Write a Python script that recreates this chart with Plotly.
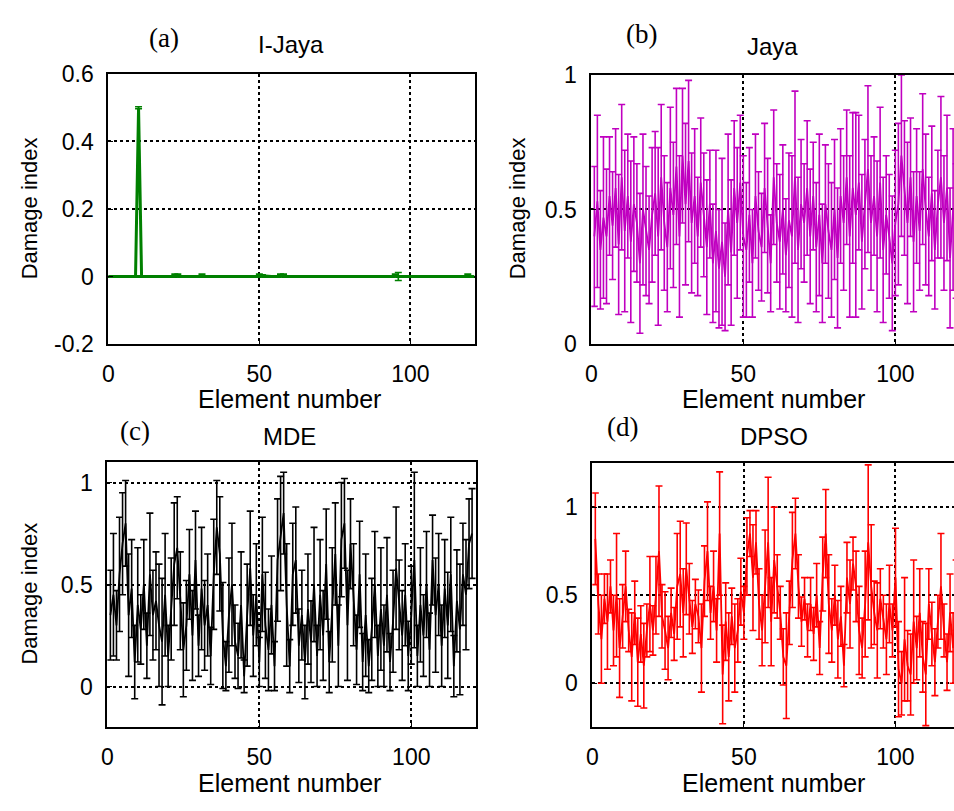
import plotly.graph_objects as go

elements = list(range(1, 121))

ijaya_mean = [
    0.0, 0.0, 0.0, 0.0, 0.0, 0.0, 0.0, 0.0, 0.0, 0.5,
    0.0, 0.0, 0.0, 0.0, 0.0, 0.0, 0.0, 0.0, 0.0, 0.0,
    0.0, 0.003, 0.003, 0.0, 0.0, 0.0, 0.0, 0.0, 0.0, 0.0,
    0.003, 0.0, 0.0, 0.0, 0.0, 0.0, 0.0, 0.0, 0.0, 0.0,
    0.0, 0.0, 0.0, 0.0, 0.0, 0.0, 0.0, 0.0, 0.0, 0.003,
    0.002, 0.0, 0.0, 0.0, 0.0, 0.0, 0.003, 0.003, 0.0, 0.0,
    0.0, 0.0, 0.0, 0.0, 0.0, 0.0, 0.0, 0.0, 0.0, 0.0,
    0.0, 0.0, 0.0, 0.0, 0.0, 0.0, 0.0, 0.0, 0.0, 0.0,
    0.0, 0.0, 0.0, 0.0, 0.0, 0.0, 0.0, 0.0, 0.0, 0.0,
    0.0, 0.0, 0.0, 0.0, 0.003, 0.0, 0.0, 0.0, 0.0, 0.0,
    0.0, 0.0, 0.0, 0.0, 0.0, 0.0, 0.0, 0.0, 0.0, 0.0,
    0.0, 0.0, 0.0, 0.0, 0.0, 0.0, 0.0, 0.0, 0.003, 0.0,
]
ijaya_err = [
    0.002, 0.002, 0.002, 0.002, 0.002, 0.002, 0.002, 0.002, 0.002, 0.003,
    0.002, 0.002, 0.002, 0.002, 0.002, 0.002, 0.002, 0.002, 0.002, 0.002,
    0.002, 0.004, 0.004, 0.002, 0.002, 0.002, 0.002, 0.002, 0.002, 0.002,
    0.004, 0.002, 0.002, 0.002, 0.002, 0.002, 0.002, 0.002, 0.002, 0.002,
    0.002, 0.002, 0.002, 0.002, 0.002, 0.002, 0.002, 0.002, 0.002, 0.004,
    0.003, 0.002, 0.002, 0.002, 0.002, 0.002, 0.004, 0.004, 0.002, 0.002,
    0.002, 0.002, 0.002, 0.002, 0.002, 0.002, 0.002, 0.002, 0.002, 0.002,
    0.002, 0.002, 0.002, 0.002, 0.002, 0.002, 0.002, 0.002, 0.002, 0.002,
    0.002, 0.002, 0.002, 0.002, 0.002, 0.002, 0.002, 0.002, 0.002, 0.002,
    0.002, 0.002, 0.002, 0.002, 0.004, 0.012, 0.002, 0.002, 0.002, 0.002,
    0.002, 0.002, 0.002, 0.002, 0.002, 0.002, 0.002, 0.002, 0.002, 0.002,
    0.002, 0.002, 0.002, 0.002, 0.002, 0.002, 0.002, 0.002, 0.004, 0.002,
]

jaya_mean = [
    0.40, 0.53, 0.35, 0.47, 0.40, 0.55, 0.44, 0.58, 0.37, 0.62,
    0.42, 0.55, 0.38, 0.52, 0.45, 0.30, 0.50, 0.42, 0.35, 0.48,
    0.56, 0.40, 0.62, 0.45, 0.36, 0.58, 0.48, 0.66, 0.40, 0.70,
    0.52, 0.68, 0.45, 0.55, 0.40, 0.60, 0.48, 0.36, 0.52, 0.30,
    0.42, 0.28, 0.38, 0.25, 0.50, 0.34, 0.58, 0.45, 0.60, 0.40,
    0.35, 0.48, 0.30, 0.55, 0.42, 0.36, 0.58, 0.44, 0.30, 0.62,
    0.45, 0.38, 0.50, 0.33, 0.46, 0.40, 0.62, 0.35, 0.52, 0.45,
    0.58, 0.40, 0.55, 0.36, 0.48, 0.30, 0.52, 0.42, 0.35, 0.50,
    0.32, 0.55, 0.45, 0.62, 0.40, 0.58, 0.48, 0.60, 0.38, 0.52,
    0.65, 0.45, 0.55, 0.40, 0.60, 0.35, 0.48, 0.40, 0.30, 0.45,
    0.52, 0.70, 0.58, 0.45, 0.62, 0.38, 0.55, 0.42, 0.65, 0.50,
    0.40, 0.56, 0.35, 0.52, 0.62, 0.45, 0.58, 0.32, 0.50, 0.42,
]
jaya_err = [
    0.26, 0.32, 0.22, 0.30, 0.25, 0.22, 0.20, 0.22, 0.26, 0.27,
    0.30, 0.23, 0.30, 0.25, 0.22, 0.26, 0.28, 0.24, 0.20, 0.25,
    0.23, 0.33, 0.27, 0.25, 0.24, 0.30, 0.27, 0.29, 0.30, 0.25,
    0.30, 0.30, 0.26, 0.25, 0.22, 0.24, 0.23, 0.25, 0.20, 0.22,
    0.30, 0.22, 0.31, 0.20, 0.28, 0.27, 0.25, 0.28, 0.25, 0.30,
    0.25, 0.25, 0.20, 0.23, 0.22, 0.20, 0.24, 0.25, 0.18, 0.25,
    0.22, 0.25, 0.24, 0.21, 0.25, 0.30, 0.32, 0.27, 0.24, 0.22,
    0.25, 0.25, 0.20, 0.24, 0.30, 0.22, 0.22, 0.25, 0.25, 0.26,
    0.26, 0.25, 0.25, 0.25, 0.30, 0.28, 0.38, 0.25, 0.25, 0.24,
    0.31, 0.25, 0.22, 0.28, 0.28, 0.27, 0.22, 0.23, 0.25, 0.27,
    0.30, 0.30, 0.25, 0.30, 0.22, 0.26, 0.25, 0.22, 0.28, 0.28,
    0.22, 0.25, 0.22, 0.20, 0.30, 0.25, 0.27, 0.26, 0.30, 0.25,
]

mde_mean = [
    0.35, 0.45, 0.30, 0.55, 0.70, 0.80, 0.35, 0.48, 0.12, 0.40,
    0.28, 0.50, 0.20, 0.55, 0.35, 0.42, 0.30, 0.22, 0.45, 0.15,
    0.38, 0.60, 0.68, 0.42, 0.18, 0.30, 0.55, 0.25, 0.62, 0.20,
    0.48, 0.30, 0.40, 0.15, 0.55, 0.78, 0.65, 0.25, 0.10, 0.35,
    0.50, 0.22, 0.15, 0.40, 0.05, 0.35, 0.58, 0.25, 0.45, 0.12,
    0.55, 0.30, 0.18, 0.40, 0.10, 0.62, 0.75, 0.85, 0.40, 0.10,
    0.55, 0.62, 0.20, 0.35, 0.12, 0.38, 0.22, 0.50, 0.15, 0.45,
    0.25, 0.60, 0.12, 0.40, 0.65, 0.20, 0.72, 0.80, 0.30, 0.70,
    0.45, 0.18, 0.55, 0.12, 0.35, 0.10, 0.28, 0.50, 0.15, 0.38,
    0.20, 0.45, 0.12, 0.32, 0.58, 0.40, 0.25, 0.45, 0.15, 0.35,
    0.62, 0.15, 0.40, 0.25, 0.50, 0.18, 0.62, 0.35, 0.50, 0.20,
    0.48, 0.30, 0.55, 0.10, 0.42, 0.28, 0.55, 0.45, 0.70, 0.75,
]
mde_err = [
    0.22, 0.30, 0.17, 0.28, 0.25, 0.21, 0.30, 0.24, 0.18, 0.28,
    0.17, 0.22, 0.16, 0.30, 0.22, 0.24, 0.30, 0.31, 0.30, 0.15,
    0.25, 0.30, 0.25, 0.24, 0.23, 0.22, 0.22, 0.22, 0.24, 0.15,
    0.30, 0.22, 0.25, 0.14, 0.27, 0.23, 0.28, 0.26, 0.12, 0.28,
    0.30, 0.18, 0.16, 0.26, 0.08, 0.25, 0.28, 0.20, 0.25, 0.12,
    0.28, 0.26, 0.20, 0.24, 0.12, 0.30, 0.28, 0.20, 0.30, 0.13,
    0.25, 0.26, 0.18, 0.22, 0.18, 0.27, 0.20, 0.28, 0.15, 0.27,
    0.22, 0.27, 0.15, 0.28, 0.25, 0.20, 0.28, 0.22, 0.27, 0.22,
    0.25, 0.17, 0.26, 0.14, 0.30, 0.13, 0.25, 0.26, 0.15, 0.30,
    0.20, 0.28, 0.14, 0.25, 0.30, 0.22, 0.22, 0.25, 0.17, 0.24,
    0.43, 0.15, 0.28, 0.20, 0.26, 0.18, 0.22, 0.28, 0.25, 0.20,
    0.24, 0.26, 0.28, 0.15, 0.25, 0.32, 0.25, 0.27, 0.22, 0.22,
]

dpso_mean = [
    0.82, 0.45, 0.25, 0.48, 0.35, 0.55, 0.30, 0.50, 0.20, 0.38,
    0.55, 0.30, 0.15, 0.40, 0.12, 0.28, 0.10, 0.30, 0.45, 0.30,
    0.50, 0.75, 0.38, 0.30, 0.20, 0.40, 0.28, 0.55, 0.62, 0.40,
    0.65, 0.48, 0.32, 0.45, 0.38, 0.20, 0.58, 0.75, 0.40, 0.55,
    0.30, 0.85, 0.05, 0.35, 0.15, 0.38, 0.20, 0.30, 0.52, 0.40,
    0.72, 0.85, 0.60, 0.80, 0.45, 0.30, 0.55, 0.80, 0.35, 0.70,
    0.55, 0.40, 0.15, 0.10, 0.40, 0.70, 0.85, 0.55, 0.35, 0.48,
    0.30, 0.45, 0.28, 0.50, 0.20, 0.62, 0.85, 0.45, 0.30, 0.50,
    0.25, 0.38, 0.10, 0.60, 0.45, 0.68, 0.55, 0.30, 0.20, 0.45,
    0.80, 0.55, 0.40, 0.30, 0.48, 0.35, 0.25, 0.45, 0.30, 0.60,
    0.08, 0.00, 0.25, 0.10, 0.05, 0.35, 0.20, 0.40, 0.15, 0.05,
    0.45, 0.28, 0.12, 0.35, 0.55, 0.30, 0.12, 0.40, 0.20, 0.50,
]
dpso_err = [
    0.26, 0.17, 0.25, 0.14, 0.27, 0.15, 0.20, 0.35, 0.28, 0.18,
    0.20, 0.12, 0.25, 0.18, 0.25, 0.16, 0.24, 0.15, 0.27, 0.14,
    0.22, 0.37, 0.18, 0.22, 0.18, 0.14, 0.15, 0.30, 0.30, 0.25,
    0.26, 0.20, 0.15, 0.14, 0.15, 0.25, 0.20, 0.28, 0.15, 0.20,
    0.18, 0.35, 0.28, 0.22, 0.25, 0.16, 0.25, 0.18, 0.19, 0.15,
    0.22, 0.13, 0.30, 0.18, 0.20, 0.20, 0.32, 0.37, 0.25, 0.30,
    0.18, 0.15, 0.16, 0.30, 0.18, 0.27, 0.20, 0.18, 0.14, 0.12,
    0.15, 0.15, 0.15, 0.18, 0.15, 0.21, 0.25, 0.28, 0.18, 0.17,
    0.22, 0.17, 0.12, 0.20, 0.25, 0.15, 0.20, 0.25, 0.17, 0.30,
    0.44, 0.35, 0.18, 0.27, 0.17, 0.15, 0.20, 0.22, 0.15, 0.28,
    0.27, 0.18, 0.35, 0.20, 0.23, 0.35, 0.18, 0.25, 0.20, 0.29,
    0.20, 0.18, 0.19, 0.15, 0.30, 0.15, 0.16, 0.22, 0.20, 0.20,
]

x_ticks = [0, 50, 100]
panels = [
    # name, mean, err, color, y ticks, y tick labels, y range, x range, domains
    ("I-Jaya", ijaya_mean, ijaya_err, "#008000", [-0.2, 0, 0.2, 0.4, 0.6],
     ["-0.2", "0", "0.2", "0.4", "0.6"], [-0.2, 0.6], [0, 121.4],
     [103 / 954, 472 / 954], [1 - 342 / 811, 1 - 63 / 811], True, 3.0),
    ("Jaya", jaya_mean, jaya_err, "#c000c0", [0, 0.5, 1], ["0", "0.5", "1"],
     [0, 1], [0, 119.3], [589 / 954, 1.0], [1 - 342 / 811, 1 - 64 / 811], False, 1.8),
    ("MDE", mde_mean, mde_err, "#000000", [0, 0.5, 1], ["0", "0.5", "1"],
     [-0.2, 1.1], [0, 121.3], [102 / 954, 473 / 954], [1 - 738 / 811, 1 - 464 / 811], True, 1.8),
    ("DPSO", dpso_mean, dpso_err, "#ff0000", [0, 0.5, 1], ["0", "0.5", "1"],
     [-0.25, 1.25], [0, 119.3], [590 / 954, 1.0], [1 - 738 / 811, 1 - 465 / 811], False, 1.8),
]

FONT = "Liberation Sans, Arial, sans-serif"
TICK = 23
fig = go.Figure()
layout = dict(
    width=954, height=811, margin=dict(l=0, r=0, t=0, b=0),
    paper_bgcolor="white", plot_bgcolor="white", showlegend=False,
    font=dict(family=FONT, size=TICK, color="black"),
)
for i, (name, mean, err, color, yt, ytl, yr, xr, dx, dy, box, lw) in enumerate(panels):
    k = "" if i == 0 else str(i + 1)
    fig.add_trace(go.Scatter(
        x=elements, y=mean, mode="lines", xaxis="x" + k, yaxis="y" + k,
        line=dict(color=color, width=lw),
        error_y=dict(type="data", array=err, visible=True, color=color,
                     thickness=1.6, width=3.5),
        cliponaxis=True,
    ))
    layout["xaxis" + k] = dict(
        domain=dx, range=xr, anchor="y" + k, tickvals=x_ticks,
        ticktext=[str(v) for v in x_ticks], ticks="inside", ticklen=5,
        tickcolor="black", showline=True, linecolor="black", linewidth=2,
        mirror=True, showgrid=True, gridcolor="black", griddash="dot",
        gridwidth=1.8, zeroline=False, ticklabelstandoff=8,
        tickfont=dict(family=FONT, size=TICK, color="black"),
    )
    layout["yaxis" + k] = dict(
        domain=dy, range=yr, anchor="x" + k, tickvals=yt, ticktext=ytl,
        ticks="inside", ticklen=5, tickcolor="black", showline=True,
        linecolor="black", linewidth=2, mirror=box, showgrid=True,
        gridcolor="black", griddash="dot", gridwidth=1.8, zeroline=False,
        ticklabelstandoff=8,
        tickfont=dict(family=FONT, size=TICK, color="black"),
    )
fig.update_layout(**layout)

def ann(text, px, py, size, family=FONT, angle=0):
    fig.add_annotation(text=text, x=px / 954, y=1 - py / 811, xref="paper",
                       yref="paper", showarrow=False, xanchor="center",
                       yanchor="middle", textangle=angle,
                       font=dict(family=family, size=size, color="black"))

SERIF = "Liberation Serif, Times New Roman, serif"
ann("(a)", 159, 26, 27, SERIF)
ann("I-Jaya", 287, 33, 24)
ann("(b)", 640, 22, 27, SERIF)
ann("Jaya", 771, 35, 24)
ann("(c)", 130, 432, 27, SERIF)
ann("MDE", 285, 438, 24)
ann("(d)", 620, 428, 27, SERIF)
ann("DPSO", 773, 438, 24)
ann("Element number", 285, 399, 25)
ann("Element number", 772, 399, 25)
ann("Element number", 285, 796, 25)
ann("Element number", 772, 796, 25)
ann("Damage index", 24, 202, 22, angle=-90)
ann("Damage index", 515, 202, 22, angle=-90)
ann("Damage index", 24, 600, 22, angle=-90)

fig.write_html("out.html")
